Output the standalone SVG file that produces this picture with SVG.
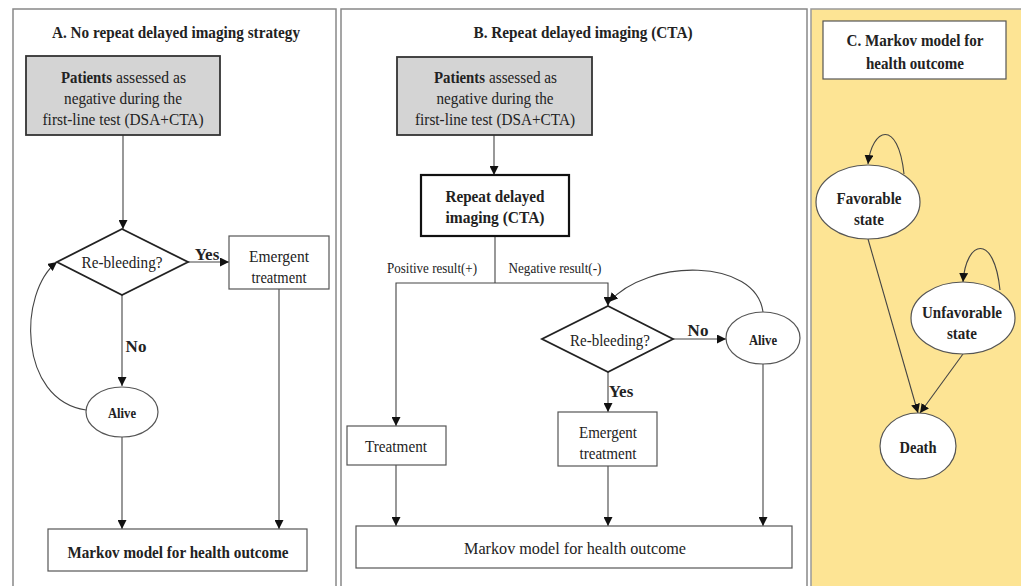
<svg xmlns="http://www.w3.org/2000/svg" width="1021" height="586" viewBox="0 0 1021 586">
<style>
text{font-family:"Liberation Serif","Times New Roman",serif;fill:#222;text-anchor:middle;dominant-baseline:central}
.t{font-size:17px;font-weight:bold}
.n{font-size:17px}
.b{font-weight:bold}
.st{text-anchor:start}
.s{font-size:14px}
.box{fill:#fff;stroke:#555;stroke-width:1.2}
.gray{fill:#d4d4d4;stroke:#333;stroke-width:1.8}
.dia{fill:#fff;stroke:#222;stroke-width:1.8}
.ell{fill:#fff;stroke:#555;stroke-width:1.2}
.panel{fill:#fff;stroke:#888;stroke-width:1.5}
#connectors path,#connectors line{fill:none;stroke:#444;stroke-width:1.1}
</style>
<defs>
<marker id="ah" viewBox="0 0 10 10" refX="10" refY="5" markerWidth="9" markerHeight="9" markerUnits="userSpaceOnUse" orient="auto">
<path d="M0,0 L10,5 L0,10 z" fill="#111"/>
</marker>
</defs>
<rect width="1021" height="586" fill="#fff"/>
<g id="panelA"><rect class="panel" x="13" y="9" width="323" height="590"/>
<text class="t" x="176" y="32" textLength="248" lengthAdjust="spacingAndGlyphs">A. No repeat delayed imaging strategy</text></g>
<g id="panelB"><rect class="panel" x="341" y="9" width="466" height="590"/>
<text class="t" x="583" y="32" textLength="219" lengthAdjust="spacingAndGlyphs">B. Repeat delayed imaging (CTA)</text></g>
<g id="panelC"><rect x="811" y="9" width="212" height="590" fill="#fde494" stroke="#999" stroke-width="1.5"/></g>

<g id="connectors">
<line x1="123" y1="135" x2="123" y2="229" marker-end="url(#ah)"/>
<line x1="188" y1="262" x2="229" y2="262" marker-end="url(#ah)"/>
<line x1="122" y1="295" x2="122" y2="386" marker-end="url(#ah)"/>
<path d="M86,410 C18,400 18,292 57,262" marker-end="url(#ah)"/>
<line x1="122" y1="437" x2="122" y2="529" marker-end="url(#ah)"/>
<line x1="279" y1="289" x2="279" y2="529" marker-end="url(#ah)"/>

<line x1="494" y1="135" x2="494" y2="175" marker-end="url(#ah)"/>
<path d="M495,236 L495,283"/>
<path d="M495,283 L396,283 L396,426" marker-end="url(#ah)"/>
<path d="M495,283 L608,283 L608,306" marker-end="url(#ah)"/>
<line x1="673" y1="339" x2="726" y2="339" marker-end="url(#ah)"/>
<path d="M763,312 C756,258 648,258 609,302" marker-end="url(#ah)"/>
<line x1="608" y1="372" x2="608" y2="412" marker-end="url(#ah)"/>
<line x1="396" y1="465" x2="396" y2="526" marker-end="url(#ah)"/>
<line x1="608" y1="466" x2="608" y2="526" marker-end="url(#ah)"/>
<line x1="763" y1="364" x2="763" y2="526" marker-end="url(#ah)"/>

<path d="M904,174 C898,118 872,128 868,164" marker-end="url(#ah)"/>
<path d="M1000,290 C994,232 966,240 963,282" marker-end="url(#ah)"/>
<line x1="868" y1="239" x2="918" y2="413" marker-end="url(#ah)"/>
<line x1="963" y1="354" x2="920" y2="413" marker-end="url(#ah)"/>
</g>

<g id="labels">
<text class="n b" x="207" y="254">Yes</text>
<text class="n b" x="136" y="346">No</text>
<text class="s" x="432" y="268" textLength="90" lengthAdjust="spacingAndGlyphs">Positive result(+)</text>
<text class="s" x="555" y="268" textLength="93" lengthAdjust="spacingAndGlyphs">Negative result(-)</text>
<text class="n b" x="698" y="330">No</text>
<text class="n b" x="621" y="391">Yes</text>
</g>

<g id="A-patients"><rect class="gray" x="26" y="56" width="194" height="79"/>
<text class="n b st" x="61" y="77" textLength="51" lengthAdjust="spacingAndGlyphs">Patients</text>
<text class="n st" x="116" y="77" textLength="70" lengthAdjust="spacingAndGlyphs">assessed as</text>
<text class="n" x="123" y="98" textLength="118" lengthAdjust="spacingAndGlyphs">negative during the</text>
<text class="n" x="123" y="119" textLength="161" lengthAdjust="spacingAndGlyphs">first-line test (DSA+CTA)</text></g>
<g id="A-rebleeding"><polygon class="dia" points="122,229 188,262 122,295 57,262"/>
<text class="n" x="122" y="262" textLength="81" lengthAdjust="spacingAndGlyphs">Re-bleeding?</text></g>
<g id="A-emergent"><rect class="box" x="229" y="236" width="100" height="53"/>
<text class="n" x="279" y="256" textLength="60" lengthAdjust="spacingAndGlyphs">Emergent</text>
<text class="n" x="279" y="277" textLength="55" lengthAdjust="spacingAndGlyphs">treatment</text></g>
<g id="A-alive"><ellipse class="ell" cx="122" cy="412" rx="36" ry="25"/>
<text class="b" x="122" y="413" style="font-size:14px" textLength="28" lengthAdjust="spacingAndGlyphs">Alive</text></g>
<g id="A-markov"><rect class="box" x="48" y="529" width="259" height="42"/>
<text class="n b" x="178" y="552" textLength="221" lengthAdjust="spacingAndGlyphs">Markov model for health outcome</text></g>

<g id="B-patients"><rect class="gray" x="397" y="57" width="195" height="78"/>
<text class="n b st" x="434" y="77" textLength="51" lengthAdjust="spacingAndGlyphs">Patients</text>
<text class="n st" x="489" y="77" textLength="68" lengthAdjust="spacingAndGlyphs">assessed as</text>
<text class="n" x="495" y="98" textLength="117" lengthAdjust="spacingAndGlyphs">negative during the</text>
<text class="n" x="495" y="119" textLength="160" lengthAdjust="spacingAndGlyphs">first-line test (DSA+CTA)</text></g>
<g id="B-repeat"><rect x="421" y="175" width="148" height="61" fill="#fff" stroke="#111" stroke-width="2.2"/>
<text class="n b" x="495" y="196" textLength="99" lengthAdjust="spacingAndGlyphs">Repeat delayed</text>
<text class="n b" x="495" y="217" textLength="99" lengthAdjust="spacingAndGlyphs">imaging (CTA)</text></g>
<g id="B-rebleeding"><polygon class="dia" points="608,306 673,339 608,372 542,339"/>
<text class="n" x="610" y="340" textLength="80" lengthAdjust="spacingAndGlyphs">Re-bleeding?</text></g>
<g id="B-alive"><ellipse class="ell" cx="763" cy="338" rx="37" ry="26"/>
<text class="b" x="763" y="340" style="font-size:14px" textLength="28" lengthAdjust="spacingAndGlyphs">Alive</text></g>
<g id="B-treatment"><rect class="box" x="347" y="426" width="99" height="39"/>
<text class="n" x="396" y="446" textLength="62" lengthAdjust="spacingAndGlyphs">Treatment</text></g>
<g id="B-emergent"><rect class="box" x="558" y="412" width="99" height="54"/>
<text class="n" x="608" y="432" textLength="58" lengthAdjust="spacingAndGlyphs">Emergent</text>
<text class="n" x="608" y="453" textLength="57" lengthAdjust="spacingAndGlyphs">treatment</text></g>
<g id="B-markov"><rect class="box" x="356" y="526" width="436" height="42"/>
<text class="n" x="575" y="548" textLength="222" lengthAdjust="spacingAndGlyphs">Markov model for health outcome</text></g>

<g id="C-title"><rect class="box" x="823" y="21" width="183" height="58"/>
<text class="n b" x="915" y="40" textLength="137" lengthAdjust="spacingAndGlyphs">C. Markov model for</text>
<text class="n b" x="915" y="63" textLength="98" lengthAdjust="spacingAndGlyphs">health outcome</text></g>
<g id="C-favorable"><ellipse class="ell" cx="868" cy="202" rx="52" ry="37"/>
<text class="n b" x="869" y="198" textLength="65" lengthAdjust="spacingAndGlyphs">Favorable</text>
<text class="n b" x="869" y="219" textLength="30" lengthAdjust="spacingAndGlyphs">state</text></g>
<g id="C-unfavorable"><ellipse class="ell" cx="963" cy="318" rx="52" ry="36"/>
<text class="n b" x="962" y="312" textLength="80" lengthAdjust="spacingAndGlyphs">Unfavorable</text>
<text class="n b" x="962" y="333" textLength="30" lengthAdjust="spacingAndGlyphs">state</text></g>
<g id="C-death"><ellipse class="ell" cx="918" cy="446" rx="38" ry="33"/>
<text class="n b" x="918" y="447" textLength="37" lengthAdjust="spacingAndGlyphs">Death</text></g>
</svg>
